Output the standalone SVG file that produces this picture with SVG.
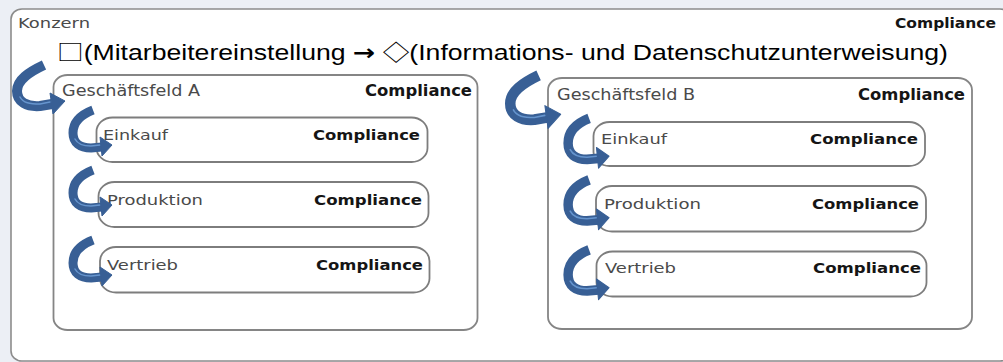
<svg xmlns="http://www.w3.org/2000/svg" xmlns:xlink="http://www.w3.org/1999/xlink" width="1003" height="362" viewBox="0 0 1003 362">
  <style>
    .frame { fill: #ffffff; stroke: #8c8c8c; stroke-width: 1.6; }
    .box { fill: #ffffff; stroke: #858585; stroke-width: 1.8; }
    .unit { fill: #ffffff; stroke: #7d7d7d; stroke-width: 1.8; }
    .lbl { font-family: "DejaVu Sans", Verdana, sans-serif; fill: #4a4a4a; }
    .cmp { font-family: "DejaVu Sans", Verdana, sans-serif; font-weight: bold; fill: #151515; }
    .formula { font-family: "Liberation Sans", Arial, "Noto Sans CJK SC", sans-serif; font-size: 22px; fill: #000000; }
    .sym { font-family: "Noto Sans CJK SC", "DejaVu Sans", sans-serif; }
    .arw { font-family: "DejaVu Sans", sans-serif; font-weight: bold; }
    .shaft { fill: none; stroke: #385f95; stroke-linecap: butt; stroke-linejoin: round; }
    .shine { fill: none; stroke: #6f9fd8; stroke-width: 1.5; stroke-linecap: round; opacity: 0.85; }
    .head { fill: #385f95; stroke: #385f95; stroke-width: 1; stroke-linejoin: round; }
  </style>
  <defs>
    <!-- curved "delegation" arrow, small variant -->
    <g id="arrowSmall">
      <path class="shaft" stroke-width="9" d="M 32 5 C 19 10, 12 18, 12 28 C 12 38, 19 43, 30 43 L 41 42"/>
      <path class="shine" d="M 14 34 C 17 40, 23 41, 30 41 L 39 40"/>
      <polygon class="head" points="39,32 51,40 41,51"/>
    </g>
    <!-- curved arrow, large variant -->
    <g id="arrowLarge">
      <path class="shaft" stroke-width="10" d="M 32 5 C 17 12, 5 20, 5 31 C 5 42, 15 47, 28 46 L 40 44"/>
      <path class="shine" d="M 8 37 C 11 43, 18 44, 28 44 L 38 42"/>
      <polygon class="head" points="38,33 53,41 41,54"/>
    </g>
  </defs>

  <!-- page background -->
  <rect x="0" y="0" width="1003" height="362" fill="#eceff5"/>

  <g id="konzern">
    <rect class="frame" x="11" y="9" width="1000" height="352" rx="11" ry="10"/>
    <text class="lbl" x="18" y="28" font-size="14" textLength="72" lengthAdjust="spacingAndGlyphs">Konzern</text>
    <text class="cmp" x="895" y="28" font-size="14" textLength="101" lengthAdjust="spacingAndGlyphs">Compliance</text>
  </g>

  <g id="formula">
    <text class="formula" x="57" y="60" textLength="891" lengthAdjust="spacingAndGlyphs"><tspan class="sym">□</tspan>(Mitarbeitereinstellung <tspan class="arw">→</tspan> <tspan class="sym">◇</tspan>(Informations- und Datenschutzunterweisung)</text>
  </g>

  <g id="geschaeftsfeld-a">
    <rect class="box" x="53.5" y="75" width="424" height="255" rx="14" ry="12"/>
    <text class="lbl" x="62" y="96" font-size="15" textLength="138" lengthAdjust="spacingAndGlyphs">Geschäftsfeld A</text>
    <text class="cmp" x="365" y="96" font-size="15" textLength="107" lengthAdjust="spacingAndGlyphs">Compliance</text>
  </g>
  <g id="a-einkauf">
    <rect class="unit" x="96.5" y="117.5" width="331" height="44.5" rx="16" ry="14"/>
    <text class="lbl" x="103" y="140" font-size="14" textLength="65" lengthAdjust="spacingAndGlyphs">Einkauf</text>
    <text class="cmp" x="313" y="140" font-size="14" textLength="107" lengthAdjust="spacingAndGlyphs">Compliance</text>
  </g>
  <g id="a-produktion">
    <rect class="unit" x="98.5" y="182" width="330" height="45" rx="16" ry="14"/>
    <text class="lbl" x="107" y="205" font-size="14" textLength="96" lengthAdjust="spacingAndGlyphs">Produktion</text>
    <text class="cmp" x="314" y="205" font-size="14" textLength="108" lengthAdjust="spacingAndGlyphs">Compliance</text>
  </g>
  <g id="a-vertrieb">
    <rect class="unit" x="100" y="247" width="329.5" height="45.5" rx="16" ry="14"/>
    <text class="lbl" x="107" y="270" font-size="14" textLength="71" lengthAdjust="spacingAndGlyphs">Vertrieb</text>
    <text class="cmp" x="316" y="270" font-size="14" textLength="107" lengthAdjust="spacingAndGlyphs">Compliance</text>
  </g>

  <g id="geschaeftsfeld-b">
    <rect class="box" x="548" y="78" width="424" height="251" rx="14" ry="12"/>
    <text class="lbl" x="557" y="100" font-size="15" textLength="138" lengthAdjust="spacingAndGlyphs">Geschäftsfeld B</text>
    <text class="cmp" x="858" y="100" font-size="15" textLength="107" lengthAdjust="spacingAndGlyphs">Compliance</text>
  </g>
  <g id="b-einkauf">
    <rect class="unit" x="593.5" y="122" width="331.5" height="44" rx="16" ry="14"/>
    <text class="lbl" x="601" y="144" font-size="14" textLength="66" lengthAdjust="spacingAndGlyphs">Einkauf</text>
    <text class="cmp" x="810" y="144" font-size="14" textLength="108" lengthAdjust="spacingAndGlyphs">Compliance</text>
  </g>
  <g id="b-produktion">
    <rect class="unit" x="596" y="186" width="330" height="45.5" rx="16" ry="14"/>
    <text class="lbl" x="604" y="209" font-size="14" textLength="97" lengthAdjust="spacingAndGlyphs">Produktion</text>
    <text class="cmp" x="812" y="209" font-size="14" textLength="107" lengthAdjust="spacingAndGlyphs">Compliance</text>
  </g>
  <g id="b-vertrieb">
    <rect class="unit" x="596.5" y="251.5" width="330" height="45" rx="16" ry="14"/>
    <text class="lbl" x="605" y="273" font-size="14" textLength="71" lengthAdjust="spacingAndGlyphs">Vertrieb</text>
    <text class="cmp" x="813" y="273" font-size="14" textLength="108" lengthAdjust="spacingAndGlyphs">Compliance</text>
  </g>

  <g id="connectors">
    <use xlink:href="#arrowLarge" transform="translate(12 60)"/>
    <use xlink:href="#arrowLarge" transform="translate(505 70) scale(1.05 1.08)"/>
    <use xlink:href="#arrowSmall" transform="translate(61 105)"/>
    <use xlink:href="#arrowSmall" transform="translate(61 165)"/>
    <use xlink:href="#arrowSmall" transform="translate(61 235)"/>
    <use xlink:href="#arrowSmall" transform="translate(555.5 113) scale(1.05 1.08)"/>
    <use xlink:href="#arrowSmall" transform="translate(555.5 174.5) scale(1.05 1.08)"/>
    <use xlink:href="#arrowSmall" transform="translate(555.5 244.5) scale(1.05 1.08)"/>
  </g>
</svg>
